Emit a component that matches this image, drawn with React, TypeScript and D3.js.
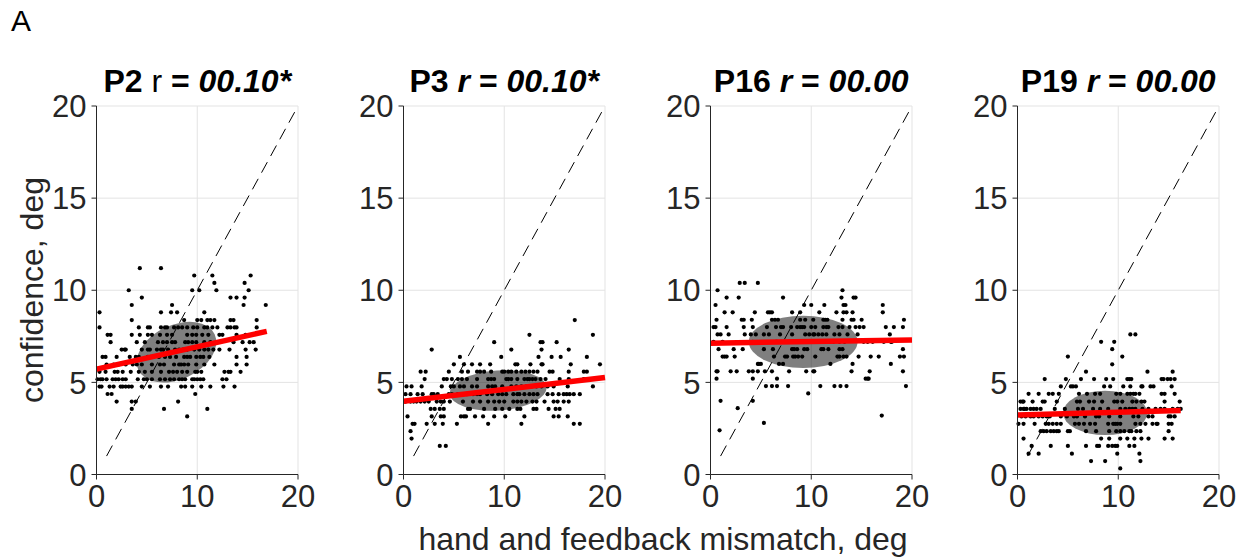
import React from 'react';
import * as d3 from 'd3';

type Row = [number, number[]];

// Panel P2: confidence rows (y level, x values)
const p2Rows: Row[] = [
  [11.2, [4.3, 6.4]],
  [10.8, [9.7, 11.5, 15.3]],
  [10.4, [11.7, 14.7]],
  [10.0, [3.2, 9.5, 10.2, 11.9, 15.1]],
  [9.6, [4.5, 13.3, 13.9, 14.7]],
  [9.2, [3.5, 7.5, 14.6, 16.8]],
  [8.8, [0.3, 6.4, 7.4, 8.0, 10.7]],
  [8.38, [3.5, 8.7, 10.0, 10.4, 11.0, 11.3, 11.7, 13.3, 13.6, 15.9]],
  [7.98, [0.3, 4.2, 5.1, 5.3, 6.4, 6.8, 7.0, 7.7, 8.1, 8.5, 9.0, 9.6, 10.0, 10.7, 11.0, 11.5, 12.0, 13.0, 13.3, 13.7, 13.9, 15.9]],
  [7.58, [1.1, 1.4, 3.5, 4.3, 5.1, 5.5, 6.3, 7.0, 7.5, 9.0, 9.5, 9.9, 10.5, 11.1, 12.2, 12.5, 13.9, 14.8]],
  [7.18, [1.4, 4.0, 4.8, 6.1, 6.6, 7.0, 7.5, 7.8, 8.8, 9.1, 9.5, 9.9, 10.7, 11.3, 13.6, 14.5, 15.2, 15.6]],
  [6.78, [2.5, 2.8, 2.9, 4.5, 5.1, 5.3, 6.0, 6.4, 6.6, 7.1, 7.8, 8.2, 8.6, 9.0, 9.7, 10.2, 10.7, 11.1, 11.6, 12.2, 13.2, 14.8, 15.8]],
  [6.38, [0.6, 0.9, 2.0, 3.3, 3.9, 4.2, 5.1, 5.4, 5.6, 6.2, 6.8, 7.3, 7.9, 8.7, 9.0, 9.3, 9.9, 10.3, 10.6, 11.2, 13.9, 14.9]],
  [5.97, [1.0, 1.7, 2.2, 2.9, 3.6, 4.0, 4.5, 5.5, 6.3, 6.7, 7.7, 8.2, 8.4, 8.7, 9.1, 9.9, 10.7, 11.7, 13.9, 14.9]],
  [5.57, [0.3, 0.9, 1.8, 2.1, 2.6, 3.4, 4.2, 4.8, 5.5, 6.4, 7.2, 7.6, 8.0, 8.5, 9.0, 9.8, 10.0, 10.4, 12.7, 13.1, 13.3, 14.3]],
  [5.17, [0.1, 0.4, 0.6, 1.0, 1.6, 1.9, 2.2, 2.6, 2.9, 4.1, 4.7, 5.0, 5.5, 6.3, 6.8, 7.3, 7.7, 8.2, 8.5, 8.8, 9.5, 9.7, 10.0, 10.3, 10.6, 12.5, 12.9]],
  [4.77, [0.3, 0.5, 1.3, 1.7, 2.4, 2.6, 2.9, 3.2, 3.5, 4.5, 5.3, 6.4, 7.1, 8.4, 8.8, 9.5, 10.4, 11.3, 12.6, 13.7]],
  [4.37, [1.1, 1.5, 9.8]],
  [3.96, [2.0, 3.5, 3.9, 8.1]],
  [3.56, [3.5, 6.7, 11.0]],
  [3.15, [9.0]],
];

// Panel P3
const p3Rows: Row[] = [
  [8.38, [17.0]],
  [7.58, [12.5, 18.8]],
  [7.18, [9.0, 13.6, 13.8, 15.2]],
  [6.78, [2.8, 10.7, 13.7, 16.4]],
  [6.38, [5.6, 9.7, 13.4, 14.7, 15.6, 18.2]],
  [5.98, [5.0, 6.0, 6.8, 7.6, 8.6, 11.1, 11.3, 12.6, 13.7, 13.8, 16.6, 19.5]],
  [5.58, [1.7, 2.2, 4.5, 5.8, 6.4, 7.3, 7.6, 8.0, 8.7, 9.8, 10.0, 10.4, 10.7, 11.2, 11.7, 12.1, 12.5, 12.9, 13.3, 14.5, 14.8, 16.4, 17.9, 18.2]],
  [5.18, [2.1, 4.0, 4.3, 4.8, 5.4, 5.8, 6.3, 7.3, 8.4, 8.7, 9.0, 10.2, 10.4, 10.7, 11.3, 12.0, 12.3, 12.5, 12.8, 13.1, 13.6, 14.1, 15.5, 16.4, 17.9, 18.2]],
  [4.78, [0.3, 0.8, 1.8, 3.8, 4.7, 5.0, 5.6, 6.0, 6.8, 7.3, 8.4, 8.8, 9.1, 9.8, 10.7, 11.2, 11.7, 12.2, 12.7, 13.2, 13.7, 14.3, 14.9, 16.3, 18.8]],
  [4.36, [0.2, 0.7, 1.4, 1.9, 2.8, 3.0, 3.4, 4.5, 4.8, 5.4, 6.0, 6.3, 6.9, 7.3, 7.6, 8.3, 8.8, 9.4, 9.8, 10.2, 10.9, 11.3, 11.5, 12.0, 12.5, 12.9, 13.3, 14.3, 14.8, 15.4, 15.9, 16.2, 16.5, 16.9, 17.5]],
  [3.96, [0.2, 0.7, 1.0, 1.3, 1.7, 2.1, 2.5, 3.3, 3.7, 4.0, 4.6, 5.9, 6.9, 7.6, 8.4, 9.0, 9.5, 10.0, 10.9, 11.3, 11.7, 12.2, 12.8, 13.2, 14.0, 14.9, 15.3, 15.9, 16.4]],
  [3.56, [2.7, 3.1, 3.6, 4.0, 6.4, 6.6, 8.0, 9.1, 9.8, 10.5, 11.3, 11.6, 12.9, 13.2, 14.4, 15.1, 15.5]],
  [3.15, [0.4, 2.8, 3.7, 4.0, 5.7, 6.0, 6.2, 7.1, 7.9, 9.0, 10.1, 12.0, 14.9, 15.4, 16.3]],
  [2.75, [0.9, 1.1, 2.3, 3.1, 3.9, 5.3, 8.4, 11.7, 16.9, 17.5]],
  [2.35, [0.7]],
  [1.95, [0.8]],
  [1.55, [3.6, 4.2]],
];

// Panel P16
const p16Rows: Row[] = [
  [10.4, [2.9, 3.4, 4.7]],
  [10.0, [0.7, 13.1]],
  [9.6, [1.6, 2.8, 7.2, 13.0, 14.2, 14.4]],
  [9.2, [0.5, 9.3, 10.0, 11.3, 13.2, 13.4, 17.1]],
  [8.8, [1.4, 2.2, 4.4, 5.7, 5.9, 6.1, 8.1, 8.9, 10.8, 12.5, 13.2, 13.5, 14.1, 17.1]],
  [8.4, [0.6, 3.1, 3.3, 4.1, 6.1, 6.4, 6.7, 8.9, 9.4, 10.2, 11.2, 11.4, 11.6, 13.1, 14.0, 14.2, 15.0, 19.2]],
  [8.0, [0.3, 0.5, 1.6, 3.3, 4.2, 5.6, 6.5, 7.0, 7.2, 8.0, 8.6, 8.9, 9.1, 9.3, 10.0, 10.4, 11.2, 11.5, 11.7, 12.7, 13.1, 13.8, 14.4, 14.8, 15.2, 17.4, 18.2, 19.1]],
  [7.6, [0.7, 1.0, 1.8, 3.4, 4.0, 4.5, 5.3, 5.8, 6.9, 8.1, 9.4, 9.8, 10.2, 10.3, 10.7, 11.1, 11.5, 12.3, 12.8, 13.6, 14.6, 17.8]],
  [7.2, [0.3, 1.2, 4.2, 6.5, 6.6, 7.0, 7.3, 8.1, 8.8, 9.0, 10.0, 11.5, 11.9, 12.2, 12.8, 13.3, 15.2, 15.6, 16.1, 17.2, 17.9, 18.0]],
  [6.8, [0.8, 2.3, 3.2, 5.3, 6.2, 8.1, 8.3, 8.6, 9.3, 9.6, 11.0, 11.2, 11.7, 12.8, 13.1, 19.1]],
  [6.4, [1.2, 1.4, 1.6, 2.4, 6.3, 7.4, 7.6, 8.2, 8.4, 8.7, 9.1, 10.4, 12.6, 12.8, 13.2, 13.5, 14.7, 15.9, 16.7, 18.8, 19.2]],
  [6.0, [4.7, 4.8, 5.0, 6.8, 7.2, 11.9, 14.1, 17.9]],
  [5.6, [0.6, 0.7, 2.0, 2.6, 3.8, 4.2, 4.7, 5.4, 6.1, 7.8, 9.5, 10.2, 10.3, 14.0, 15.8, 19.1]],
  [5.2, [0.6, 4.2, 6.6, 15.4, 15.6, 15.7]],
  [4.8, [5.5, 6.1, 6.6, 7.7, 10.9, 12.3, 12.9, 13.5, 19.4]],
  [4.4, [9.7]],
  [4.0, [1.0, 4.2]],
  [3.6, [2.7]],
  [3.2, [17.0]],
  [2.8, [5.3]],
  [2.4, [0.9]],
];

// Panel P19
const p19Rows: Row[] = [
  [7.6, [11.2, 11.7]],
  [7.2, [8.3, 9.6]],
  [6.8, [9.4]],
  [6.4, [5.0, 10.4]],
  [5.98, [9.4]],
  [5.58, [6.8, 12.9, 15.4]],
  [5.18, [2.7, 4.8, 6.3, 7.6, 8.8, 9.5, 10.9, 11.1, 11.3, 14.3, 14.5, 14.9, 15.2, 15.6]],
  [4.78, [4.3, 5.3, 5.5, 5.8, 8.6, 9.2, 10.5, 11.2, 12.3, 12.4, 13.2, 13.5, 15.3]],
  [4.38, [1.1, 2.1, 3.1, 3.5, 4.1, 6.1, 6.9, 7.7, 8.2, 9.8, 10.2, 10.9, 11.2, 11.5, 11.7, 12.1, 14.3, 14.6, 15.6]],
  [3.96, [0.3, 0.5, 0.6, 1.5, 2.5, 2.7, 3.9, 5.9, 6.2, 7.1, 7.6, 8.4, 9.6, 9.9, 10.4, 11.4, 11.8, 12.3, 12.6, 14.6, 16.1]],
  [3.56, [0.3, 0.6, 0.7, 0.9, 1.3, 1.6, 1.9, 2.3, 3.7, 4.7, 6.0, 6.5, 7.5, 8.2, 9.0, 10.2, 10.7, 11.1, 11.4, 11.7, 12.4, 13.0, 13.7, 14.2, 14.6, 15.4, 15.9, 16.2]],
  [3.15, [0.4, 0.8, 1.3, 1.6, 2.1, 2.5, 2.9, 3.2, 4.3, 4.9, 5.6, 5.9, 6.7, 7.8, 8.1, 9.1, 10.2, 11.5, 12.0, 13.0, 13.4, 15.0, 15.2, 15.6]],
  [2.75, [0.1, 0.6, 1.7, 2.8, 3.1, 3.5, 3.9, 4.3, 5.7, 6.1, 6.6, 7.2, 7.7, 9.0, 9.5, 9.7, 9.9, 10.2, 11.7, 12.2, 12.7, 13.4, 13.8, 13.9, 15.0, 15.3]],
  [2.35, [2.3, 2.6, 2.9, 3.3, 3.6, 3.9, 4.1, 5.0, 5.2, 6.8, 7.8, 9.1, 9.8, 10.2, 10.6, 11.1, 11.3, 11.8, 12.2, 15.0]],
  [1.95, [0.6, 8.3, 9.1, 10.2, 10.9, 11.6, 12.3, 13.0, 14.6, 15.4]],
  [1.55, [1.4, 3.3, 5.0, 6.8, 7.9, 8.1, 9.0, 9.4, 9.7, 9.9, 11.1, 11.6]],
  [1.13, [1.1, 2.1, 5.4, 9.9, 12.1]],
  [0.73, [7.3, 8.7, 12.2]],
  [0.33, [10.2]],
];

// Regression line endpoints [x0, y0, x1, y1]
const p2Fit = [0, 5.72, 16.9, 7.77];
const p3Fit = [0, 3.97, 20, 5.27];
const p16Fit = [0, 7.13, 20, 7.3];
const p19Fit = [0, 3.23, 16.2, 3.48];

// Ellipses [cx, cy, semi-axis (x units), semi-axis (y units), angle deg]
const p2Ellipse = [7.94, 6.64, 4.18, 1.47, -25];
const p3Ellipse = [9.4, 4.56, 4.82, 1.09, -4];
const p16Ellipse = [9.2, 7.2, 5.4, 1.42, 0];
const p19Ellipse = [8.7, 3.34, 4.18, 1.2, 0];

const xTicks = [0, 10, 20];
const yTicks = [0, 5, 10, 15, 20];
const diagonal = [1, 20];

type Seg = { t: string; b?: boolean; i?: boolean };
const p2Title: Seg[] = [{ t: 'P2', b: true }, { t: ' r ' }, { t: '= ', b: true }, { t: '00.10*', b: true, i: true }];
const p3Title: Seg[] = [{ t: 'P3 ', b: true }, { t: 'r', b: true, i: true }, { t: ' = ', b: true }, { t: '00.10*', b: true, i: true }];
const p16Title: Seg[] = [{ t: 'P16 ', b: true }, { t: 'r', b: true, i: true }, { t: ' = ', b: true }, { t: '00.00', b: true, i: true }];
const p19Title: Seg[] = [{ t: 'P19 ', b: true }, { t: 'r', b: true, i: true }, { t: ' = ', b: true }, { t: '00.00', b: true, i: true }];

const panels = [
  { title: p2Title, rows: p2Rows, fit: p2Fit, ell: p2Ellipse },
  { title: p3Title, rows: p3Rows, fit: p3Fit, ell: p3Ellipse },
  { title: p16Title, rows: p16Rows, fit: p16Fit, ell: p16Ellipse },
  { title: p19Title, rows: p19Rows, fit: p19Fit, ell: p19Ellipse },
];

const FONT = '"Liberation Sans", Arial, Helvetica, sans-serif';
const AX = '#262626';
const GRID = '#e3e3e3';

const W = 1244;
const H = 559;
const PW = 201.5;
const TOP = 106;
const BOTTOM = 474.5;
const LEFT0 = 96.5;
const STEP = 307;

function Panel({ idx, p }: { idx: number; p: (typeof panels)[number] }) {
  const left = LEFT0 + idx * STEP;
  const x = d3.scaleLinear().domain([0, 20]).range([left, left + PW]);
  const y = d3.scaleLinear().domain([0, 20]).range([BOTTOM, TOP]);
  const pts: [number, number][] = [];
  p.rows.forEach(([yy, xs]) => xs.forEach((xx) => pts.push([xx, yy])));
  const line = d3.line<number[]>().x((d) => x(d[0])).y((d) => y(d[1]));
  const [cx, cy, ax, by, ang] = p.ell;
  const rx = x(cx + ax) - x(cx);
  const ry = y(cy) - y(cy + by);
  const f = p.fit;
  return (
    <g>
      {xTicks.filter((t) => t > 0).map((t) => (
        <line key={'gx' + t} x1={x(t)} x2={x(t)} y1={y(0)} y2={y(20)} stroke={GRID} strokeWidth={1} />
      ))}
      {yTicks.filter((t) => t > 0).map((t) => (
        <line key={'gy' + t} x1={x(0)} x2={x(20)} y1={y(t)} y2={y(t)} stroke={GRID} strokeWidth={1} />
      ))}
      {pts.map((d, i) => (
        <circle key={i} cx={x(d[0])} cy={y(d[1])} r={2.1} fill="#000" />
      ))}
      <ellipse
        cx={x(cx)}
        cy={y(cy)}
        rx={rx}
        ry={ry}
        transform={`rotate(${ang} ${x(cx)} ${y(cy)})`}
        fill="#000"
        fillOpacity={0.5}
      />
      <path
        d={line([[diagonal[0], diagonal[0]], [diagonal[1], diagonal[1]]]) || ''}
        stroke="#000"
        strokeWidth={1}
        strokeDasharray="12,7"
        fill="none"
      />
      <path d={line([[f[0], f[1]], [f[2], f[3]]]) || ''} stroke="#ff0000" strokeWidth={5.5} fill="none" />
      <line x1={x(0)} x2={x(0)} y1={y(0)} y2={y(20)} stroke={AX} strokeWidth={1} />
      <line x1={x(0)} x2={x(20)} y1={y(0)} y2={y(0)} stroke={AX} strokeWidth={1} />
      {yTicks.map((t) => (
        <g key={'yt' + t}>
          <line x1={x(0) - 5} x2={x(0)} y1={y(t)} y2={y(t)} stroke={AX} />
          <text x={x(0) - 10} y={y(t)} dy="0.36em" textAnchor="end" fontSize={31} fill={AX} fontFamily={FONT}>
            {t}
          </text>
        </g>
      ))}
      {xTicks.map((t) => (
        <g key={'xt' + t}>
          <line x1={x(t)} x2={x(t)} y1={y(0)} y2={y(0) + 5} stroke={AX} />
          <text x={x(t)} y={507} textAnchor="middle" fontSize={31} fill={AX} fontFamily={FONT}>
            {t}
          </text>
        </g>
      ))}
      <text x={left + PW / 2} y={92} textAnchor="middle" fontSize={32} fill="#000" fontFamily={FONT} style={{ whiteSpace: 'pre' }}>
        {p.title.map((s, i) => (
          <tspan key={i} fontWeight={s.b ? 'bold' : 'normal'} fontStyle={s.i ? 'italic' : 'normal'}>
            {s.t}
          </tspan>
        ))}
      </text>
    </g>
  );
}

export default function App() {
  return (
    <svg
      width={W}
      height={H}
      style={{ position: 'absolute', left: 0, top: 0, background: '#fff' }}
      fontFamily={FONT}
    >
      <rect width={W} height={H} fill="#fff" />
      <text x={11} y={31} fontSize={30} fill="#000">A</text>
      {panels.map((p, i) => (
        <Panel key={i} idx={i} p={p} />
      ))}
      <text transform="translate(43,290) rotate(-90)" textAnchor="middle" fontSize={32} fill={AX}>
        confidence, deg
      </text>
      <text x={663} y={550} textAnchor="middle" fontSize={32} fill={AX}>
        hand and feedback mismatch, deg
      </text>
    </svg>
  );
}
